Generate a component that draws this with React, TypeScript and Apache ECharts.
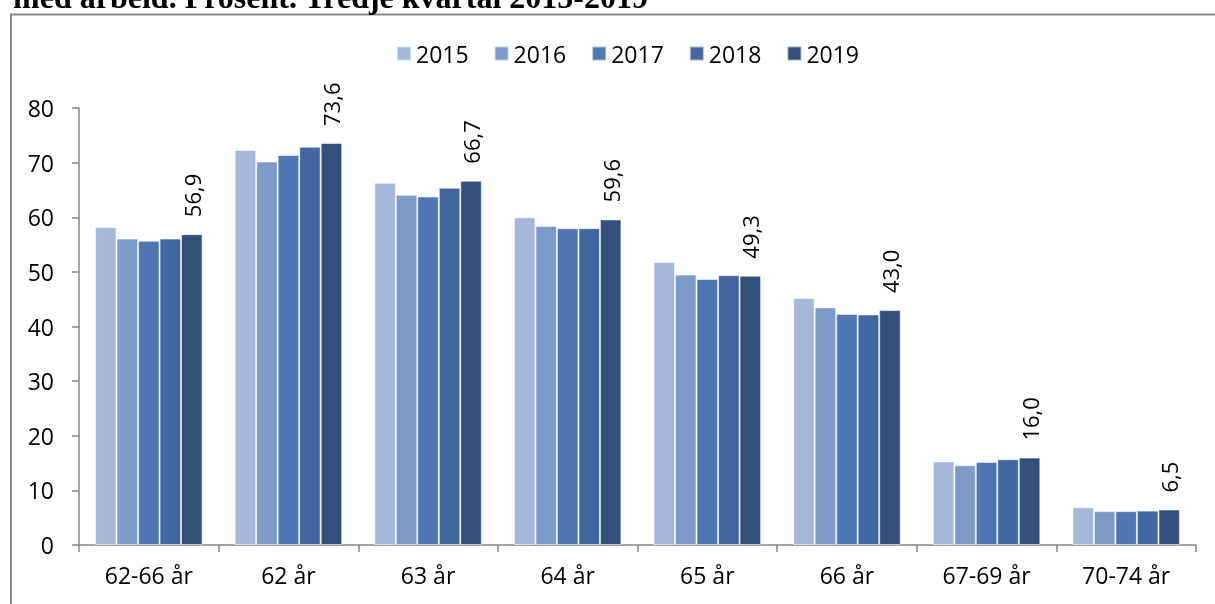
import React, { useEffect, useRef } from "react";
import * as echarts from "echarts";

const categories = ["62-66 år", "62 år", "63 år", "64 år", "65 år", "66 år", "67-69 år", "70-74 år"];
const years = ["2015", "2016", "2017", "2018", "2019"];
const v2015 = [58.2, 72.3, 66.3, 60.0, 51.8, 45.2, 15.3, 6.9];
const v2016 = [56.1, 70.2, 64.1, 58.4, 49.5, 43.5, 14.6, 6.2];
const v2017 = [55.7, 71.4, 63.8, 58.0, 48.7, 42.3, 15.2, 6.2];
const v2018 = [56.1, 72.9, 65.4, 58.0, 49.4, 42.2, 15.7, 6.3];
const v2019 = [56.9, 73.6, 66.7, 59.6, 49.3, 43.0, 16.0, 6.5];
const seriesValues = [v2015, v2016, v2017, v2018, v2019];
const colors = ["#A5B8DA", "#7C9BC9", "#4F77B4", "#42669F", "#334F7B"];
const yTicks = [0, 10, 20, 30, 40, 50, 60, 70, 80];
const titleText = "med arbeid. Prosent. Tredje kvartal 2015-2019";

const FONT = '"Open Sans", sans-serif';

export default function App() {
  const ref = useRef<HTMLDivElement>(null);
  useEffect(() => {
    if (!ref.current) return;
    const chart = echarts.init(ref.current, null, { renderer: "svg" });
    const series = years.map((y, i) => ({
      name: y,
      type: "bar",
      data: seriesValues[i],
      barGap: "0%",
      barCategoryGap: "23%",
      itemStyle: { color: colors[i], borderColor: "rgba(255,255,255,0.55)", borderWidth: 1 },
      label:
        i === years.length - 1
          ? {
              show: true,
              position: "top",
              rotate: 90,
              align: "left",
              verticalAlign: "middle",
              distance: 17,
              fontFamily: FONT,
              fontSize: 22,
              color: "#000",
              formatter: (p: any) => Number(p.value).toFixed(1).replace(".", ","),
            }
          : { show: false },
    }));
    chart.setOption({
      animation: false,
      color: colors,
      legend: {
        data: years,
        left: 391,
        top: 37,
        itemWidth: 14,
        itemHeight: 14,
        itemGap: 25,
        icon: "rect",
        textStyle: { fontFamily: FONT, fontSize: 23, color: "#000" },
      },
      grid: { left: 79, right: 19, top: 108, bottom: 59, containLabel: false },
      xAxis: {
        type: "category",
        data: categories,
        axisLine: { lineStyle: { color: "#868686", width: 1.5 } },
        axisTick: { show: true, length: 7, lineStyle: { color: "#868686", width: 1.5 } },
        axisLabel: { margin: 18, fontFamily: FONT, fontSize: 23, color: "#000" },
      },
      yAxis: {
        type: "value",
        min: yTicks[0],
        max: yTicks[yTicks.length - 1],
        interval: 10,
        axisLine: { show: true, lineStyle: { color: "#868686", width: 1.5 } },
        axisTick: { show: true, length: 7, lineStyle: { color: "#868686", width: 1.5 } },
        splitLine: { show: false },
        axisLabel: { margin: 25, fontFamily: FONT, fontSize: 23, color: "#000" },
      },
      graphic: [
        {
          type: "rect",
          shape: { x: 11, y: 14.5, width: 1400, height: 800 },
          style: { fill: "none", stroke: "#888", lineWidth: 2 },
          silent: true,
          z: -1,
        },
        {
          type: "text",
          x: 648,
          y: -3,
          style: {
            text: titleText,
            font: 'bold 32px "Liberation Serif", serif',
            fill: "#000",
            align: "right",
            verticalAlign: "middle",
          },
        },
      ],
      series,
    });
    return () => chart.dispose();
  }, []);
  return <div ref={ref} style={{ position: "fixed", left: 0, top: 0, width: 1215, height: 604 }} />;
}
